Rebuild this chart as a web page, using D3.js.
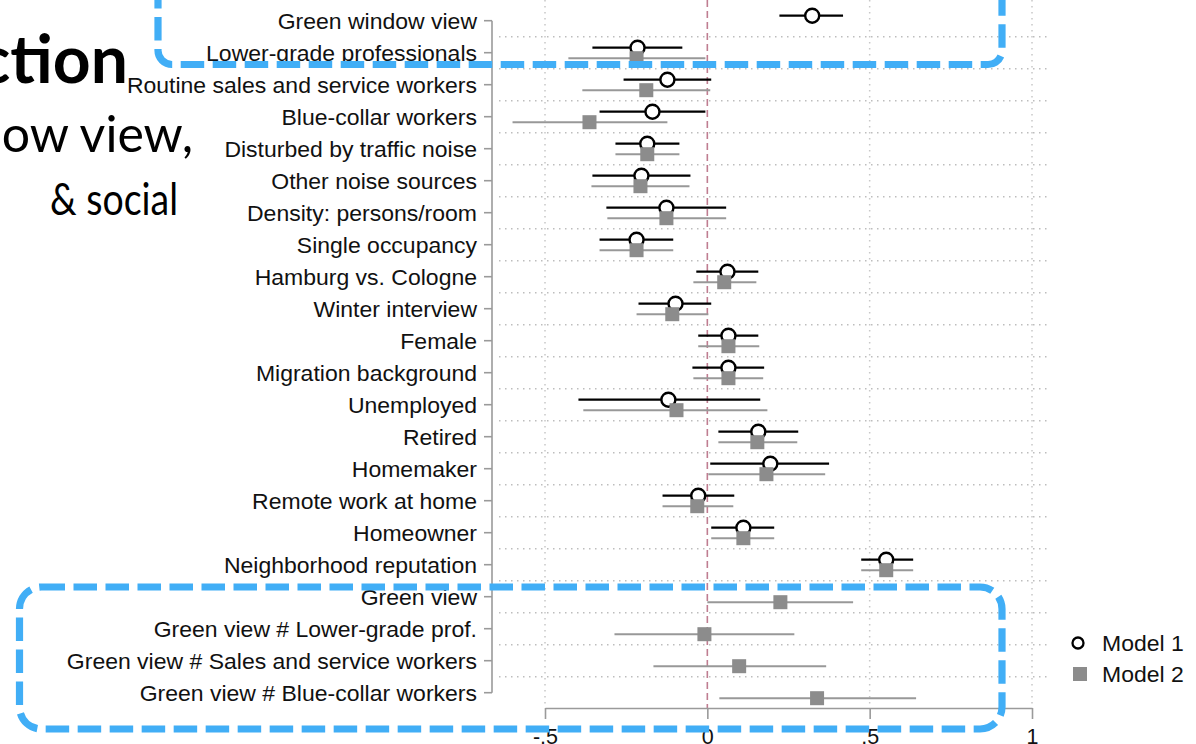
<!DOCTYPE html>
<html>
<head>
<meta charset="utf-8">
<script src="https://cdn.jsdelivr.net/npm/d3@7"></script>
<style>
  html, body { margin: 0; padding: 0; background: #fff; }
  svg { display: block; }
</style>
</head>
<body>
<svg id="chart" width="1196" height="744"></svg>
<script>
// Coefficient rows, top to bottom
const categories = [
  "Green window view",
  "Lower-grade professionals",
  "Routine sales and service workers",
  "Blue-collar workers",
  "Disturbed by traffic noise",
  "Other noise sources",
  "Density: persons/room",
  "Single occupancy",
  "Hamburg vs. Cologne",
  "Winter interview",
  "Female",
  "Migration background",
  "Unemployed",
  "Retired",
  "Homemaker",
  "Remote work at home",
  "Homeowner",
  "Neighborhood reputation",
  "Green view",
  "Green view # Lower-grade prof.",
  "Green view # Sales and service workers",
  "Green view # Blue-collar workers"
];

// Model 1: point estimates and 95% CI bounds (null = not in model)
const model1Est = [0.323, -0.215, -0.123, -0.169, -0.185, -0.203, -0.126, -0.218, 0.062, -0.098,
                   0.065, 0.065, -0.120, 0.157, 0.194, -0.028, 0.111, 0.551, null, null, null, null];
const model1Lo  = [0.222, -0.354, -0.258, -0.332, -0.283, -0.354, -0.311, -0.332, -0.034, -0.212,
                   -0.028, -0.046, -0.397, 0.034, 0.009, -0.138, 0.012, 0.474, null, null, null, null];
const model1Hi  = [0.418, -0.077, 0.012, -0.006, -0.086, -0.052, 0.058, -0.105, 0.157, 0.012,
                   0.157, 0.175, 0.163, 0.280, 0.375, 0.083, 0.206, 0.634, null, null, null, null];

// Model 2: point estimates and 95% CI bounds
const model2Est = [null, -0.218, -0.188, -0.363, -0.185, -0.206, -0.126, -0.218, 0.052, -0.108,
                   0.065, 0.065, -0.095, 0.154, 0.182, -0.031, 0.111, 0.551, 0.225, -0.009, 0.098, 0.338];
const model2Lo  = [null, -0.428, -0.385, -0.600, -0.283, -0.357, -0.308, -0.332, -0.043, -0.218,
                   -0.028, -0.043, -0.382, 0.034, 0.003, -0.138, 0.012, 0.474, 0.000, -0.286, -0.166, 0.037];
const model2Hi  = [null, -0.006, 0.009, -0.123, -0.086, -0.055, 0.058, -0.105, 0.151, 0.003,
                   0.160, 0.172, 0.185, 0.277, 0.363, 0.080, 0.206, 0.634, 0.449, 0.268, 0.366, 0.643];

const xTicks = [-0.5, 0, 0.5, 1];
const xTickLabels = ["-.5", "0", ".5", "1"];
const legendLabels = ["Model 1", "Model 2"];

const slideLines = [
  { text: "ction", weight: 700 },
  { text: "ow view,", weight: 400 },
  { text: "& social", weight: 400 }
];

const svg = d3.select("#chart");
const FONT = "'Liberation Sans', Arial, Helvetica, sans-serif";
const STRETCH = 1.07;

const x = d3.scaleLinear().domain([-0.5, 1]).range([545, 1032]);
const y = d3.scaleBand().domain(categories).range([4.7, 708.7]).paddingInner(0).paddingOuter(0);
const bw = y.bandwidth();
const yc = d => y(d) + bw / 2;

const plotLeft = 499, plotRight = 1050;

// --- slide text on the left
const slideX = [128, 193, 178];
const slideY = [83, 152, 215];
const slideSize = [66, 50, 44];
const slideFit = [null, null, 128];
svg.append("g").selectAll("text")
  .data(slideLines)
  .join("text")
  .attr("x", (d, i) => slideX[i])
  .attr("y", (d, i) => slideY[i])
  .attr("text-anchor", "end")
  .attr("font-family", "Lato, 'Open Sans', sans-serif")
  .attr("font-weight", d => d.weight)
  .attr("font-size", (d, i) => slideSize[i])
  .attr("textLength", (d, i) => slideFit[i])
  .attr("lengthAdjust", "spacingAndGlyphs")
  .attr("fill", "#000")
  .text(d => d.text);

// --- grid
const grid = svg.append("g");
grid.selectAll("line.hgrid")
  .data(categories.slice(1))
  .join("line")
  .attr("class", "hgrid")
  .attr("x1", plotLeft).attr("x2", plotRight)
  .attr("y1", d => y(d)).attr("y2", d => y(d))
  .attr("stroke", "#bdbdbd").attr("stroke-width", 1.5)
  .attr("stroke-dasharray", "1.5,4.5");

grid.selectAll("line.vgrid")
  .data(xTicks.filter(v => v !== 0))
  .join("line")
  .attr("class", "vgrid")
  .attr("x1", d => x(d)).attr("x2", d => x(d))
  .attr("y1", 0).attr("y2", 708)
  .attr("stroke", "#c8c8c8").attr("stroke-width", 1.5)
  .attr("stroke-dasharray", "1.5,4.5");

// zero reference line
svg.append("line")
  .attr("x1", x(0)).attr("x2", x(0))
  .attr("y1", 0).attr("y2", 708)
  .attr("stroke", "#bf7d91").attr("stroke-width", 1.6)
  .attr("stroke-dasharray", "7,4");

// --- axes
const xAxis = d3.axisBottom(x)
  .tickValues(xTicks)
  .tickFormat((d, i) => xTickLabels[i])
  .tickSize(11)
  .tickSizeOuter(0)
  .tickPadding(3);
const gx = svg.append("g").attr("transform", "translate(0,708)").call(xAxis);
gx.select(".domain").attr("stroke", "#9a9a9a").attr("stroke-width", 1.6);
gx.selectAll(".tick line").attr("stroke", "#9a9a9a").attr("stroke-width", 1.6);
gx.selectAll(".tick text")
  .attr("font-family", FONT).attr("font-size", 21.5).attr("fill", "#111")
  .attr("dy", null).attr("y", 36);

const yAxis = d3.axisLeft(y).tickSize(8).tickSizeOuter(0).tickFormat("");
const gy = svg.append("g").attr("transform", "translate(492,0)").call(yAxis);
gy.select(".domain").remove();
gy.selectAll(".tick line").attr("stroke", "#9a9a9a").attr("stroke-width", 1.6);
gy.append("line")
  .attr("x1", 0).attr("x2", 0)
  .attr("y1", yc(categories[0])).attr("y2", yc(categories[categories.length - 1]))
  .attr("stroke", "#9a9a9a").attr("stroke-width", 1.6);

// category labels
svg.append("g").selectAll("text")
  .data(categories)
  .join("text")
  .attr("transform", d => `translate(477,${yc(d) + 8.3}) scale(${STRETCH},1)`)
  .attr("text-anchor", "end")
  .attr("font-family", FONT)
  .attr("font-size", 21.5)
  .attr("fill", "#111")
  .text(d => d);

// --- estimates
const OFF1 = -5, OFF2 = 5.5;
const m1 = categories.map((c, i) => ({ c, est: model1Est[i], lo: model1Lo[i], hi: model1Hi[i] }))
  .filter(d => d.est !== null);
const m2 = categories.map((c, i) => ({ c, est: model2Est[i], lo: model2Lo[i], hi: model2Hi[i] }))
  .filter(d => d.est !== null);

const g1 = svg.append("g");
g1.selectAll("line")
  .data(m1).join("line")
  .attr("x1", d => x(d.lo)).attr("x2", d => x(d.hi))
  .attr("y1", d => yc(d.c) + OFF1).attr("y2", d => yc(d.c) + OFF1)
  .attr("stroke", "#000").attr("stroke-width", 2.3);
g1.selectAll("circle")
  .data(m1).join("circle")
  .attr("cx", d => x(d.est)).attr("cy", d => yc(d.c) + OFF1)
  .attr("r", 7)
  .attr("fill", "#fff").attr("stroke", "#000").attr("stroke-width", 2.4);

const g2 = svg.append("g");
g2.selectAll("line")
  .data(m2).join("line")
  .attr("x1", d => x(d.lo)).attr("x2", d => x(d.hi))
  .attr("y1", d => yc(d.c) + OFF2).attr("y2", d => yc(d.c) + OFF2)
  .attr("stroke", "#989898").attr("stroke-width", 2.1);
const SQ = 14;
g2.selectAll("rect")
  .data(m2).join("rect")
  .attr("x", d => x(d.est) - SQ / 2).attr("y", d => yc(d.c) + OFF2 - SQ / 2)
  .attr("width", SQ).attr("height", SQ)
  .attr("fill", "#8c8c8c");

// --- legend
const legend = svg.append("g");
const legY = [643, 674];
legend.append("circle")
  .attr("cx", 1078).attr("cy", legY[0]).attr("r", 5.5)
  .attr("fill", "#fff").attr("stroke", "#000").attr("stroke-width", 2.3);
legend.append("rect")
  .attr("x", 1073).attr("y", legY[1] - 7).attr("width", 14).attr("height", 14)
  .attr("fill", "#8c8c8c");
legend.selectAll("text")
  .data(legendLabels).join("text")
  .attr("transform", (d, i) => `translate(1102,${legY[i] + 7.5}) scale(${STRETCH},1)`)
  .attr("font-family", FONT).attr("font-size", 21.5).attr("fill", "#111")
  .text(d => d);

// --- highlight boxes (rounded, dashed)
function roundedBox(x0, y0, x1, y1, r) {
  const p = d3.path();
  p.moveTo(x0 + r, y0);
  p.lineTo(x1 - r, y0);
  p.arcTo(x1, y0, x1, y0 + r, r);
  p.lineTo(x1, y1 - r);
  p.arcTo(x1, y1, x1 - r, y1, r);
  p.lineTo(x0 + r, y1);
  p.arcTo(x0, y1, x0, y1 - r, r);
  p.lineTo(x0, y0 + r);
  p.arcTo(x0, y0, x0 + r, y0, r);
  p.closePath();
  return p.toString();
}
const boxes = svg.append("g")
  .attr("fill", "none")
  .attr("stroke", "#41aef6")
  .attr("stroke-width", 7.2)
  .attr("stroke-dasharray", "23.5,8.5");
boxes.append("path").attr("d", roundedBox(158, -80, 1002, 64.5, 14));
boxes.append("path").attr("d", roundedBox(19.5, 587, 1002, 729, 22));
</script>
</body>
</html>
